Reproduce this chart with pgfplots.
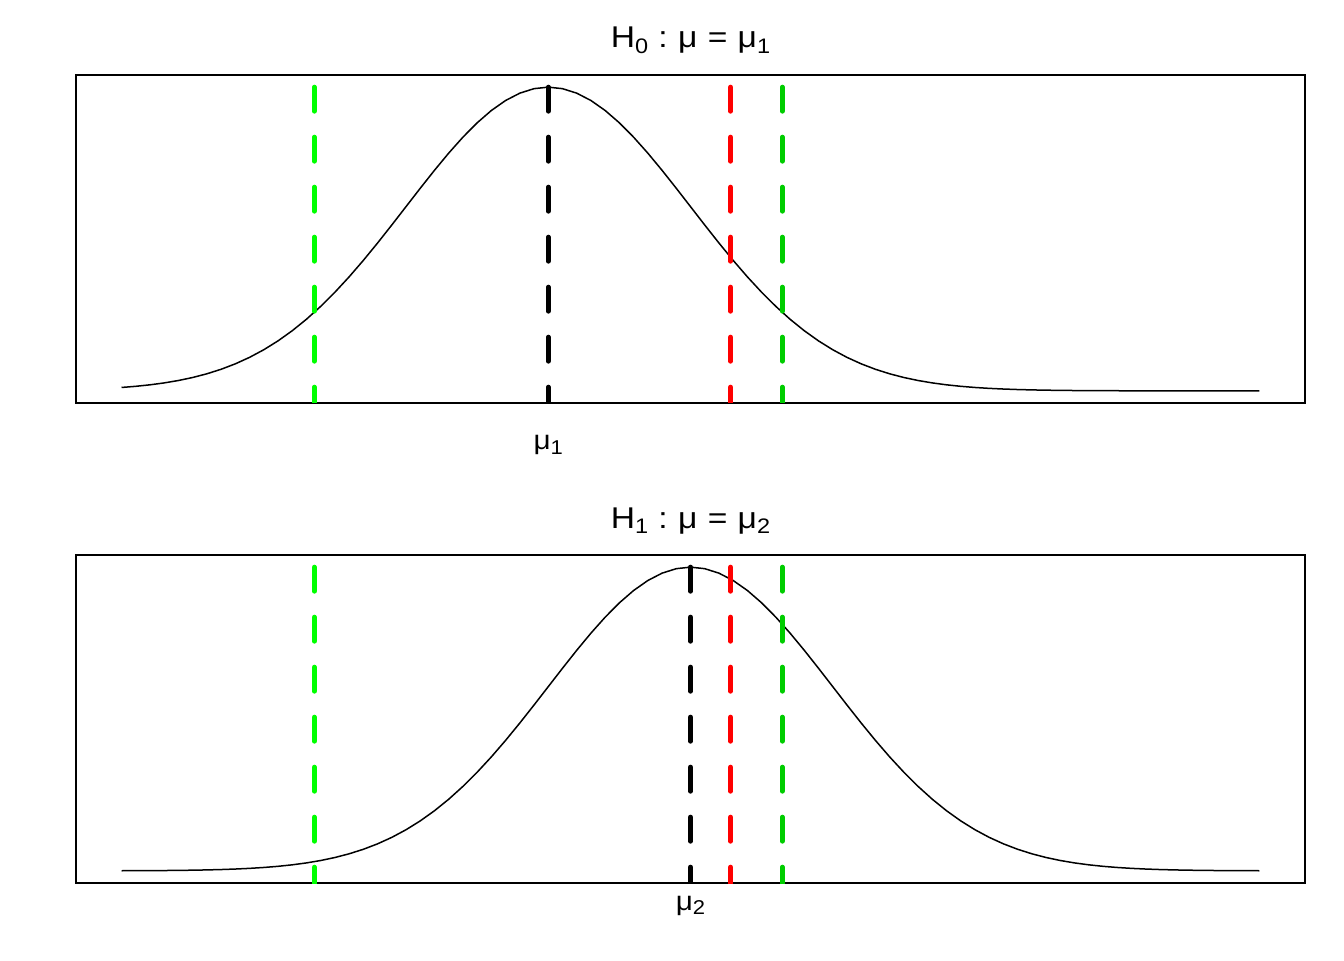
\documentclass[border=0pt]{standalone}
\usepackage{fontspec}
\setmainfont{Liberation Sans}
\usepackage{graphicx}
\usepackage{pgfplots}
\usepackage{pgfplotstable}
\pgfplotsset{compat=1.18}
\definecolor{rgreen}{HTML}{00FF00}
\definecolor{rgreenthree}{HTML}{00CD00}
\definecolor{rred}{HTML}{FF0000}

% density of N(-1,1) on [-4,4]
\pgfplotstableread{
x y
-4.0 0.004432
-3.9 0.005953
-3.8 0.007915
-3.7 0.010421
-3.6 0.013583
-3.5 0.017528
-3.4 0.022395
-3.3 0.028327
-3.2 0.035475
-3.1 0.043984
-3.0 0.053991
-2.9 0.065616
-2.8 0.078950
-2.7 0.094049
-2.6 0.110921
-2.5 0.129518
-2.4 0.149727
-2.3 0.171369
-2.2 0.194186
-2.1 0.217852
-2.0 0.241971
-1.9 0.266085
-1.8 0.289692
-1.7 0.312254
-1.6 0.333225
-1.5 0.352065
-1.4 0.368270
-1.3 0.381388
-1.2 0.391043
-1.1 0.396953
-1.0 0.398942
-0.9 0.396953
-0.8 0.391043
-0.7 0.381388
-0.6 0.368270
-0.5 0.352065
-0.4 0.333225
-0.3 0.312254
-0.2 0.289692
-0.1 0.266085
0.0 0.241971
0.1 0.217852
0.2 0.194186
0.3 0.171369
0.4 0.149727
0.5 0.129518
0.6 0.110921
0.7 0.094049
0.8 0.078950
0.9 0.065616
1.0 0.053991
1.1 0.043984
1.2 0.035475
1.3 0.028327
1.4 0.022395
1.5 0.017528
1.6 0.013583
1.7 0.010421
1.8 0.007915
1.9 0.005953
2.0 0.004432
2.1 0.003267
2.2 0.002384
2.3 0.001723
2.4 0.001232
2.5 0.000873
2.6 0.000612
2.7 0.000425
2.8 0.000292
2.9 0.000199
3.0 0.000134
3.1 0.000089
3.2 0.000059
3.3 0.000039
3.4 0.000025
3.5 0.000016
3.6 0.000010
3.7 0.000006
3.8 0.000004
3.9 0.000002
4.0 0.000001
}\topdens

% density of N(0,1) on [-4,4]
\pgfplotstableread{
x y
-4.0 0.000134
-3.9 0.000199
-3.8 0.000292
-3.7 0.000425
-3.6 0.000612
-3.5 0.000873
-3.4 0.001232
-3.3 0.001723
-3.2 0.002384
-3.1 0.003267
-3.0 0.004432
-2.9 0.005953
-2.8 0.007915
-2.7 0.010421
-2.6 0.013583
-2.5 0.017528
-2.4 0.022395
-2.3 0.028327
-2.2 0.035475
-2.1 0.043984
-2.0 0.053991
-1.9 0.065616
-1.8 0.078950
-1.7 0.094049
-1.6 0.110921
-1.5 0.129518
-1.4 0.149727
-1.3 0.171369
-1.2 0.194186
-1.1 0.217852
-1.0 0.241971
-0.9 0.266085
-0.8 0.289692
-0.7 0.312254
-0.6 0.333225
-0.5 0.352065
-0.4 0.368270
-0.3 0.381388
-0.2 0.391043
-0.1 0.396953
0.0 0.398942
0.1 0.396953
0.2 0.391043
0.3 0.381388
0.4 0.368270
0.5 0.352065
0.6 0.333225
0.7 0.312254
0.8 0.289692
0.9 0.266085
1.0 0.241971
1.1 0.217852
1.2 0.194186
1.3 0.171369
1.4 0.149727
1.5 0.129518
1.6 0.110921
1.7 0.094049
1.8 0.078950
1.9 0.065616
2.0 0.053991
2.1 0.043984
2.2 0.035475
2.3 0.028327
2.4 0.022395
2.5 0.017528
2.6 0.013583
2.7 0.010421
2.8 0.007915
2.9 0.005953
3.0 0.004432
3.1 0.003267
3.2 0.002384
3.3 0.001723
3.4 0.001232
3.5 0.000873
3.6 0.000612
3.7 0.000425
3.8 0.000292
3.9 0.000199
4.0 0.000134
}\botdens

\newcommand{\tsub}[1]{\raisebox{-2.6pt}{\fontsize{10.5}{12}\selectfont #1}}
\newcommand{\lsub}[1]{\raisebox{-2.2pt}{\fontsize{10}{11}\selectfont #1}}
\newcommand{\gap}{\hspace{4.6pt}}
\newcommand{\ttl}[2]{\scalebox{1.12}[1]{H\tsub{#1}\gap:\gap μ\gap=\gap μ\tsub{#2}}}
\newcommand{\lbl}[1]{\scalebox{1.1}[1]{μ\lsub{#1}}}

\begin{document}
\begin{tikzpicture}
\path[use as bounding box] (0,0) rectangle (672pt,480pt);
\pgfplotsset{
  panel/.style={
    scale only axis,
    width=614.5pt, height=164pt,
    xmin=-4.32, xmax=4.32,
    ymin=-0.01596, ymax=0.41490,
    ytick=\empty,
    major tick length=0pt,
    axis line style={line width=0.9pt},
    title style={at={(0.5,1)}, anchor=base, yshift=7.5pt,
      font=\fontsize{15}{18}\selectfont},
    xticklabel style={anchor=base, font=\fontsize{13.5}{15}\selectfont},
  },
  curve/.style={black, line width=0.75pt, no marks},
  vline/.style={line width=2.5pt, dash pattern=on 12pt off 13pt, line cap=round, no marks},
}
\begin{axis}[panel, at={(38pt,278.5pt)}, anchor=south west,
  title={\ttl{0}{1}},
  xtick={-1}, xticklabels={\lbl{1}},
  xticklabel style={yshift=-23.5pt}]
\addplot[curve] table[x=x,y=y] {\topdens};
\addplot[vline, rgreen] coordinates {(-2.6449,0.3989) (-2.6449,-0.06)};
\addplot[vline, black] coordinates {(-1,0.3989) (-1,-0.06)};
\addplot[vline, rred] coordinates {(0.2816,0.3989) (0.2816,-0.06)};
\addplot[vline, rgreenthree] coordinates {(0.6449,0.3989) (0.6449,-0.06)};
\end{axis}
\begin{axis}[panel, at={(38pt,38.5pt)}, anchor=south west,
  title={\ttl{1}{2}},
  xtick={0}, xticklabels={\lbl{2}},
  xticklabel style={yshift=-13.5pt}]
\addplot[curve] table[x=x,y=y] {\botdens};
\addplot[vline, rgreen] coordinates {(-2.6449,0.3989) (-2.6449,-0.06)};
\addplot[vline, black] coordinates {(0,0.3989) (0,-0.06)};
\addplot[vline, rred] coordinates {(0.2816,0.3989) (0.2816,-0.06)};
\addplot[vline, rgreenthree] coordinates {(0.6449,0.3989) (0.6449,-0.06)};
\end{axis}
\end{tikzpicture}
\end{document}
